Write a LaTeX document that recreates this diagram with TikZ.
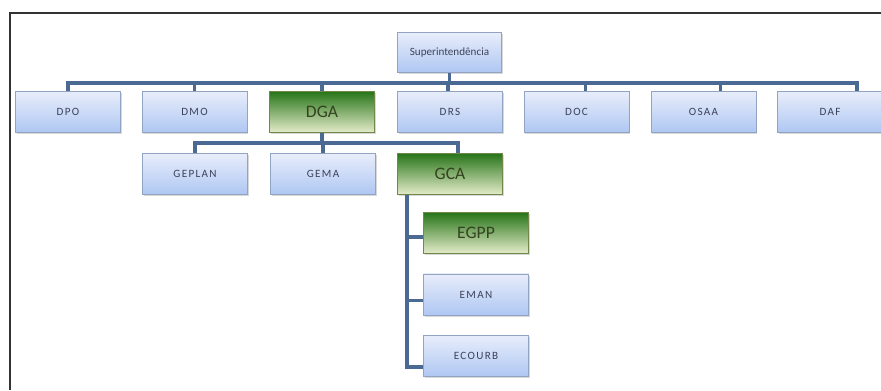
\documentclass[tikz,border=0pt]{standalone}
\usepackage{fontspec}
\setmainfont{Carlito}
\usetikzlibrary{positioning,shadows}
\definecolor{bluetop}{HTML}{E8EDFB}
\definecolor{bluebot}{HTML}{AEC7F2}
\definecolor{boxedge}{HTML}{93A3C2}
\definecolor{bluetext}{HTML}{3C4258}
\definecolor{grntop}{HTML}{267418}
\definecolor{grnmid}{HTML}{A2C26A}
\definecolor{grnbot}{HTML}{E6ECCA}
\definecolor{grntext}{HTML}{34441F}
\definecolor{linkblue}{HTML}{4B6A93}

\begin{document}
\begin{tikzpicture}[x=0.03cm,y=-0.03cm,
  box/.style={draw=boxedge,line width=0.5pt,minimum width=3.15cm,minimum height=1.24cm,
    inner sep=1pt,drop shadow={shadow xshift=1.2pt,shadow yshift=-1.5pt,fill=black!30}},
  blu/.style={box,top color=bluetop,bottom color=bluebot,text=bluetext,
    font=\fontsize{9.5}{10}\selectfont\addfontfeatures{LetterSpace=12}},
  grn/.style={box,draw=grnmid!70!black,top color=grntop,middle color=grnmid,bottom color=grnbot,
    text=grntext,font=\fontsize{15}{16}\selectfont},
  ln/.style={line width=3pt,linkblue}]
\useasboundingbox (0,0) rectangle (881,390);
\draw[line width=1.2pt,black!80] (10,390) -- (10,13) -- (881,13);
% head
\node[blu,minimum width=3.12cm,minimum height=1.2cm,font=\fontsize{9.5}{10}\selectfont] (sup) at (449.5,52.5) {Superintendência};
% first row
\node[blu] (dpo) at (68,112) {DPO};
\node[blu] (dmo) at (194.5,112) {DMO};
\node[grn] (dga) at (322,112) {DGA};
\node[blu] (drs) at (450,112) {DRS};
\node[blu] (doc) at (576.5,112) {DOC};
\node[blu] (osaa) at (703.5,112) {OSAA};
\node[blu] (daf) at (830,112) {DAF};
% second row
\node[blu] (geplan) at (195,174) {GEPLAN};
\node[blu] (gema) at (323,174) {GEMA};
\node[grn] (gca) at (450,174) {GCA};
% under GCA
\node[grn] (egpp) at (476,233) {EGPP};
\node[blu] (eman) at (476,294.5) {EMAN};
\node[blu] (ecourb) at (476,356) {ECOURB};
% links
\coordinate (bus1) at (449.5,83);
\coordinate (bus2) at (322,143);
\draw[ln] (sup.south) -- (bus1);
\foreach \n/\d in {dpo/0,dmo/0,dga/0,drs/-2,doc/9,osaa/17,daf/27}
  \draw[ln] (bus1) -| ([xshift=\d*0.03cm]\n.north);
\draw[ln] (dga.south) -- (bus2);
\foreach \n/\d in {geplan/0,gema/0,gca/8}
  \draw[ln] (bus2) -| ([xshift=\d*0.03cm]\n.north);
\foreach \n/\d in {egpp/4,eman/6,ecourb/11}
  \draw[ln] ([xshift=0.3cm]gca.south west) |- ([yshift=-\d*0.03cm]\n.west);
\end{tikzpicture}
\end{document}
